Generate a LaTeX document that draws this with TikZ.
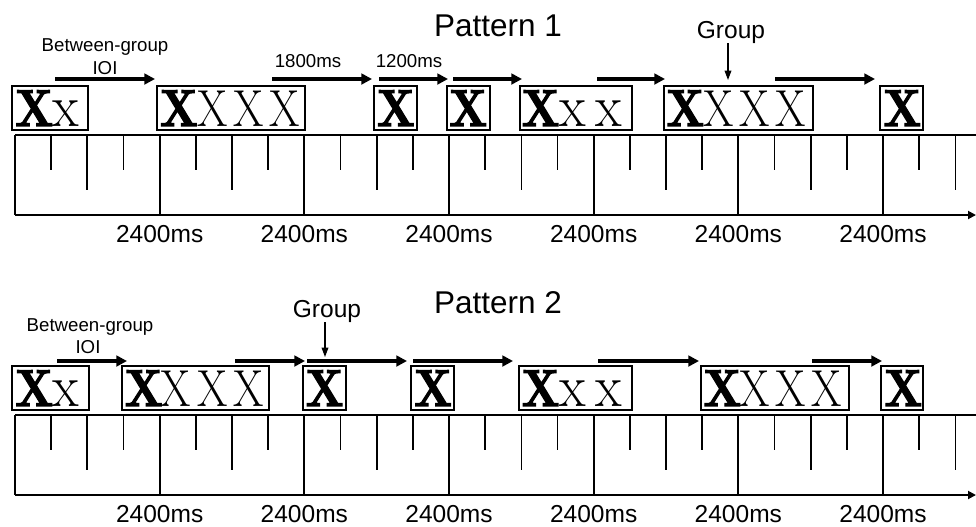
\documentclass[tikz,border=0pt]{standalone}
\usepackage{fontspec}
\setsansfont{Liberation Sans}
\newfontfamily\heavyfont{lmroman10-bold.otf}[FakeBold=2.5]
\usepackage{graphicx}
\usetikzlibrary{arrows.meta,fit}
\newcommand\bigX{\scalebox{0.84}[1]{\heavyfont X}}
\newcommand\thinX{\scalebox{0.84}[1]{X}}
\newcommand\smallx{\scalebox{1.05}[1.15]{x}}
\newcommand\timeline[1]{%
  \draw[axis] (15,135) -- (976,135);
  \draw[axis,-{Triangle[length=6pt,width=6pt]}] (15,215) -- (976,215);
  \foreach \k in {0,...,6} \draw[tick] ({15+144.67*\k},135) -- ++(0,80);
  \foreach \k in {1,3,...,25} \draw[tick] ({15+36.17*\k},135) -- ++(0,35);
  \foreach \k in {2,6,...,26} \draw[tick] ({15+36.17*\k},135) -- ++(0,55);
  \foreach \k in {1,...,6} \node[ms] (#1l\k) at ({15+144.67*\k},242) {2400ms};
}
\begin{document}
\begin{tikzpicture}[x=0.75pt,y=-0.75pt,
  lt/.style={inner sep=0pt, anchor=base west, font=\fontsize{39}{39}\selectfont},
  grpbox/.style={draw, line width=1.4pt, inner sep=0pt},
  ioi/.style={line width=2.3pt, -{Triangle[length=8pt,width=8pt]}},
  grparrow/.style={line width=0.9pt, -{Triangle[length=7pt,width=5pt]}},
  axis/.style={line width=1.4pt},
  tick/.style={line width=1.3pt},
  lbl/.style={font=\sffamily\fontsize{14}{14}\selectfont, anchor=base, inner sep=0pt},
  ms/.style={font=\sffamily\fontsize{18.4}{18.4}\selectfont, anchor=base, inner sep=0pt},
  title/.style={font=\sffamily\fontsize{23.6}{23.6}\selectfont, anchor=base, inner sep=0pt},
]
\useasboundingbox (0,0) rectangle (976,526);

% ---------- Pattern 1 ----------
\timeline{a}
\node[title] (t1) at (498,36) {Pattern 1};

\node[grpbox, fit={(12,86) (88,130)}] (a1) {};
\node[grpbox, fit={(157,86) (305,130)}] (a2) {};
\node[grpbox, fit={(374,86) (417,130)}] (a3) {};
\node[grpbox, fit={(447,86) (490,130)}] (a4) {};
\node[grpbox, fit={(520,86) (632,130)}] (a5) {};
\node[grpbox, fit={(664,86) (813,130)}] (a6) {};
\node[grpbox, fit={(880,86) (923,130)}] (a7) {};

\node[lt] (a1x1) at (15,126) {\bigX};
\node[lt] (a1x2) at (52.2,126) {\smallx};
\node[lt] (a2x1) at (159.7,126) {\bigX};
\node[lt] (a2x2) at (196.9,126) {\thinX};
\node[lt] (a2x3) at (233.0,126) {\thinX};
\node[lt] (a2x4) at (269.2,126) {\thinX};
\node[lt] (a3x1) at (376.7,126) {\bigX};
\node[lt] (a4x1) at (449.0,126) {\bigX};
\node[lt] (a5x1) at (521.4,126) {\bigX};
\node[lt] (a5x2) at (559.6,126) {\smallx};
\node[lt] (a5x3) at (595.7,126) {\smallx};
\node[lt] (a6x1) at (666.1,126) {\bigX};
\node[lt] (a6x2) at (703.2,126) {\thinX};
\node[lt] (a6x3) at (739.4,126) {\thinX};
\node[lt] (a6x4) at (775.6,126) {\thinX};
\node[lt] (a7x1) at (883.1,126) {\bigX};

\coordinate (ai1s) at (55,79);  \coordinate (ai1e) at (155,79);
\coordinate (ai2s) at (272,79); \coordinate (ai2e) at (372,79);
\coordinate (ai3s) at (379,79); \coordinate (ai3e) at (448,79);
\coordinate (ai4s) at (453,79); \coordinate (ai4e) at (522,79);
\coordinate (ai5s) at (597,79); \coordinate (ai5e) at (665,79);
\coordinate (ai6s) at (775,79); \coordinate (ai6e) at (875,79);
\foreach \i in {1,...,6} \draw[ioi] (ai\i s) -- (ai\i e);

\node[lbl] (abg) at (105,51) {Between-group};
\node[lbl] (aioi) at (105,74) {IOI};
\node[lbl] (a1800) at (308,67) {1800ms};
\node[lbl] (a1200) at (409,67) {1200ms};

\node[ms] (ag) at (731,38) {Group};
\coordinate (age) at (728,80);
\draw[grparrow] (ag.south -| age) -- (age);

% ---------- Pattern 2 ----------
\begin{scope}[yshift=-210pt]
\timeline{b}
\end{scope}
\node[title] (t2) at (498,313) {Pattern 2};

\node[grpbox, fit={(12,366) (89,410)}] (b1) {};
\node[grpbox, fit={(122,366) (269,410)}] (b2) {};
\node[grpbox, fit={(303,366) (346,410)}] (b3) {};
\node[grpbox, fit={(411,366) (454,410)}] (b4) {};
\node[grpbox, fit={(519,366) (632,410)}] (b5) {};
\node[grpbox, fit={(701,366) (849,410)}] (b6) {};
\node[grpbox, fit={(881,366) (923,410)}] (b7) {};

\node[lt] (b1x1) at (15,406) {\bigX};
\node[lt] (b1x2) at (52.2,406) {\smallx};
\node[lt] (b2x1) at (124.5,406) {\bigX};
\node[lt] (b2x2) at (160.7,406) {\thinX};
\node[lt] (b2x3) at (196.9,406) {\thinX};
\node[lt] (b2x4) at (233.0,406) {\thinX};
\node[lt] (b3x1) at (305.4,406) {\bigX};
\node[lt] (b4x1) at (413.9,406) {\bigX};
\node[lt] (b5x1) at (521.4,406) {\bigX};
\node[lt] (b5x2) at (559.6,406) {\smallx};
\node[lt] (b5x3) at (595.7,406) {\smallx};
\node[lt] (b6x1) at (703.2,406) {\bigX};
\node[lt] (b6x2) at (739.4,406) {\thinX};
\node[lt] (b6x3) at (775.6,406) {\thinX};
\node[lt] (b6x4) at (811.7,406) {\thinX};
\node[lt] (b7x1) at (884.1,406) {\bigX};

\coordinate (bi1s) at (57,361);  \coordinate (bi1e) at (127,361);
\coordinate (bi2s) at (235,361); \coordinate (bi2e) at (305,361);
\coordinate (bi3s) at (307,361); \coordinate (bi3e) at (407,361);
\coordinate (bi4s) at (413,361); \coordinate (bi4e) at (513,361);
\coordinate (bi5s) at (598,361); \coordinate (bi5e) at (699,361);
\coordinate (bi6s) at (812,361); \coordinate (bi6e) at (882,361);
\foreach \i in {1,...,6} \draw[ioi] (bi\i s) -- (bi\i e);

\node[lbl] (bbg) at (90,331) {Between-group};
\node[lbl] (bioi) at (88,353) {IOI};

\node[ms] (bg) at (327,317) {Group};
\coordinate (bge) at (325,357);
\draw[grparrow] (bg.south -| bge) -- (bge);
\end{tikzpicture}
\end{document}
